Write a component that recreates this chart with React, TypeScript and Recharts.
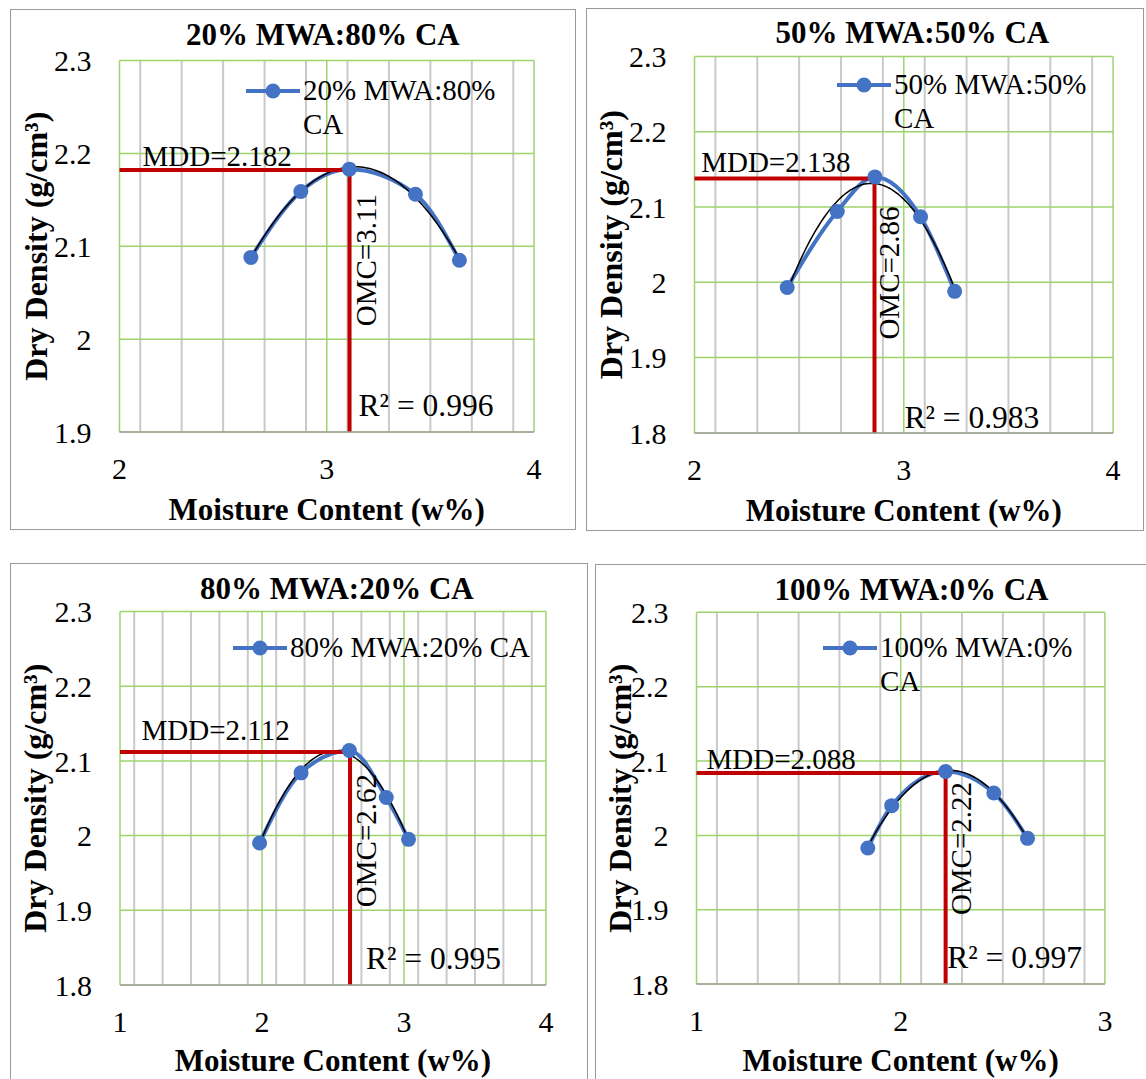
import React from 'react';
import { ComposedChart, Line, XAxis, YAxis, CartesianGrid, ReferenceLine, Legend } from 'recharts';

// ---------------- data ----------------
const TITLES = ['20% MWA:80% CA', '50% MWA:50% CA', '80% MWA:20% CA', '100% MWA:0% CA'];
const LEGEND_LINES = [['20% MWA:80%', 'CA'], ['50% MWA:50%', 'CA'], ['80% MWA:20% CA'], ['100% MWA:0%', 'CA']];

const MOISTURE_20_80 = [2.634, 2.875, 3.109, 3.428, 3.64];
const DENSITY_20_80 = [2.088, 2.159, 2.183, 2.156, 2.085];
const MOISTURE_50_50 = [2.443, 2.682, 2.862, 3.08, 3.243];
const DENSITY_50_50 = [1.993, 2.094, 2.14, 2.087, 1.988];
const MOISTURE_80_20 = [1.983, 2.275, 2.615, 2.875, 3.032];
const DENSITY_80_20 = [1.99, 2.084, 2.114, 2.051, 1.995];
const MOISTURE_100_0 = [1.839, 1.956, 2.22, 2.456, 2.621];
const DENSITY_100_0 = [1.983, 2.04, 2.086, 2.057, 1.996];

const MOISTURE = [MOISTURE_20_80, MOISTURE_50_50, MOISTURE_80_20, MOISTURE_100_0];
const DENSITY = [DENSITY_20_80, DENSITY_50_50, DENSITY_80_20, DENSITY_100_0];

const MDD = [2.182, 2.138, 2.112, 2.088];
const MDD_LINE = [2.182, 2.138, 2.112, 2.084];
const OMC = [3.11, 2.86, 2.62, 2.22];
const R2 = ['0.996', '0.983', '0.995', '0.997'];

const X_TICKS = [[2, 3, 4], [2, 3, 4], [1, 2, 3, 4], [1, 2, 3]];
const Y_TICKS = [
  [1.9, 2, 2.1, 2.2, 2.3],
  [1.8, 1.9, 2, 2.1, 2.2, 2.3],
  [1.8, 1.9, 2, 2.1, 2.2, 2.3],
  [1.8, 1.9, 2, 2.1, 2.2, 2.3],
];

// ---------------- layout (page coordinates) ----------------
const LAYOUT = [
  { box: { l: 10, t: 9, w: 566, h: 521 }, plot: { l: 119.5, t: 60.5, r: 534, b: 432 }, title: [322.8, 44.8], yTitleX: 36, xTitleDy: 87.5,
    mdd: [23, -4], omc: [16, 24], r2: [9, -16], legend: [245.7, 60] },
  { box: { l: 585.5, t: 8, w: 558.5, h: 523 }, plot: { l: 694, t: 56.4, r: 1112.6, b: 432.9 }, title: [911.8, 43.2], yTitleX: 610.6, xTitleDy: 88,
    mdd: [6.7, -6], omc: [15, 28], r2: [30, -5], legend: [837, 54] },
  { box: { l: 9.5, t: 563, w: 578.5, h: 530 }, plot: { l: 119.5, t: 611.5, r: 545.5, b: 985 }, title: [336.3, 598.7], yTitleX: 34.5, xTitleDy: 85.5,
    mdd: [21.5, -12], omc: [15.6, 22], r2: [16, -16], legend: [232.7, 617] },
  { box: { l: 595, t: 563.5, w: 560, h: 530 }, plot: { l: 696.5, t: 611.8, r: 1104.9, b: 983.6 }, title: [911.5, 599], yTitleX: 620.5, xTitleDy: 86.5,
    mdd: [10, -4], omc: [15, 9], r2: [1.6, -16], legend: [822.7, 617.3] },
];

const FONT = "'Liberation Serif', 'Times New Roman', Times, serif";
const BLUE = '#4472c4';
const RED = '#c00000';
const GREEN = '#9ed36e';
const MINOR = '#c9c9c9';

// least-squares quadratic (Excel "Poly. 2" trendline) from the data
function quadFit(xs: number[], ys: number[]) {
  let s0 = xs.length, s1 = 0, s2 = 0, s3 = 0, s4 = 0, t0 = 0, t1 = 0, t2 = 0;
  xs.forEach((x, i) => {
    const y = ys[i];
    s1 += x; s2 += x * x; s3 += x ** 3; s4 += x ** 4;
    t0 += y; t1 += x * y; t2 += x * x * y;
  });
  const det3 = (m: number[][]) =>
    m[0][0] * (m[1][1] * m[2][2] - m[1][2] * m[2][1]) -
    m[0][1] * (m[1][0] * m[2][2] - m[1][2] * m[2][0]) +
    m[0][2] * (m[1][0] * m[2][1] - m[1][1] * m[2][0]);
  const M = [[s4, s3, s2], [s3, s2, s1], [s2, s1, s0]];
  const v = [t2, t1, t0];
  const D = det3(M);
  const col = (k: number) => M.map((row, r) => row.map((c, j) => (j === k ? v[r] : c)));
  return [det3(col(0)) / D, det3(col(1)) / D, det3(col(2)) / D];
}

function trendPoints(xs: number[], ys: number[]) {
  const [a, b, c] = quadFit(xs, ys);
  const lo = Math.min(...xs), hi = Math.max(...xs);
  const n = 80;
  const out: { x: number; y: number }[] = [];
  for (let i = 0; i <= n; i++) {
    const x = lo + ((hi - lo) * i) / n;
    out.push({ x, y: a * x * x + b * x + c });
  }
  return out;
}

function minorValues(lo: number, hi: number) {
  const out: number[] = [];
  for (let k = Math.round(lo * 10); k <= Math.round(hi * 10); k++) {
    if (k % 10 !== 0) out.push(k / 10);
  }
  return out;
}

const YW = 80;
const XH = 60;
const TICK_STYLE = { fontSize: 30, fill: '#000', fontFamily: FONT, style: { fontFamily: FONT } };

function Panel({ i }: { i: number }) {
  const L = LAYOUT[i];
  const { box, plot } = L;
  const xt = X_TICKS[i];
  const yt = Y_TICKS[i];
  const xMin = xt[0], xMax = xt[xt.length - 1];
  const yMin = yt[0], yMax = yt[yt.length - 1];
  const series = MOISTURE[i].map((x, k) => ({ x, y: DENSITY[i][k] }));
  const trend = trendPoints(MOISTURE[i], DENSITY[i]);
  const margin = {
    left: plot.l - box.l - YW,
    top: plot.t - box.t,
    right: box.l + box.w - plot.r,
    bottom: box.t + box.h - plot.b - XH,
  };

  const xTitle = (p: any) => {
    const vb = p.viewBox || { x: 0, y: 0, width: 0 };
    return (
      <text x={vb.x + vb.width / 2} y={vb.y + L.xTitleDy} textAnchor="middle" fontFamily={FONT} fontWeight="bold" fontSize={31} fill="#000">
        Moisture Content (w%)
      </text>
    );
  };
  const yTitle = (p: any) => {
    const vb = p.viewBox || { x: 0, y: 0, height: 0 };
    const px = L.yTitleX - box.l;
    const py = vb.y + vb.height / 2;
    return (
      <text x={px} y={py} transform={`rotate(-90, ${px}, ${py})`} textAnchor="middle" dominantBaseline="central" fontFamily={FONT} fontWeight="bold" fontSize={32} fill="#000">
        Dry Density (g/cm³)
      </text>
    );
  };
  const mddLabel = (p: any) => {
    const vb = p.viewBox || { x: 0, y: 0 };
    return (
      <text x={vb.x + L.mdd[0]} y={vb.y + L.mdd[1]} fontFamily={FONT} fontSize={29} fill="#000">
        {`MDD=${MDD[i].toFixed(3)}`}
      </text>
    );
  };
  const omcLabel = (p: any) => {
    const vb = p.viewBox || { x: 0, y: 0, height: 0 };
    const px = vb.x + L.omc[0];
    const py = vb.y + L.omc[1];
    return (
      <g>
        <text x={px} y={py} transform={`rotate(-90, ${px}, ${py})`} textAnchor="end" dominantBaseline="central" fontFamily={FONT} fontSize={29} fill="#000">
          {`OMC=${OMC[i]}`}
        </text>
        <text x={vb.x + L.r2[0]} y={vb.y + vb.height + L.r2[1]} fontFamily={FONT} fontSize={31.5} fill="#000">
          {`R² = ${R2[i]}`}
        </text>
      </g>
    );
  };
  const legendContent = () => {
    const lines = LEGEND_LINES[i];
    return (
      <svg width={320} height={90} style={{ display: 'block', overflow: 'visible' }}>
        <line x1={0} y1={31} x2={54} y2={31} stroke={BLUE} strokeWidth={4} />
        <circle cx={27} cy={31} r={7.5} fill={BLUE} />
        {lines.map((t, k) => (
          <text key={k} x={57} y={39.5 + k * 34} fontFamily={FONT} fontSize={29} fill="#000">
            {t}
          </text>
        ))}
      </svg>
    );
  };

  return (
    <>
      <div
        style={{
          position: 'absolute', left: box.l, top: box.t, width: box.w, height: box.h,
          border: '1px solid #9a9a9a', boxSizing: 'border-box',
        }}
      />
      <div style={{ position: 'absolute', left: box.l, top: box.t, width: box.w, height: box.h, fontFamily: FONT }}>
        <ComposedChart width={box.w} height={box.h} margin={margin} style={{ fontFamily: FONT }}>
          <CartesianGrid horizontal={false} vertical verticalValues={minorValues(xMin, xMax)} stroke={MINOR} strokeWidth={2} />
          <CartesianGrid stroke={GREEN} strokeWidth={1.5} />
          <XAxis
            type="number"
            dataKey="x"
            domain={[xMin, xMax]}
            ticks={xt}
            allowDataOverflow
            height={XH}
            tickLine={false}
            tickSize={6}
            tickMargin={20}
            axisLine={{ stroke: '#a0a0a0', strokeWidth: 1.5 }}
            tick={TICK_STYLE}
            label={xTitle}
          />
          <YAxis
            type="number"
            dataKey="y"
            domain={[yMin, yMax]}
            ticks={yt}
            allowDataOverflow
            width={YW}
            tickLine={false}
            tickSize={6}
            tickMargin={22}
            axisLine={false}
            tick={TICK_STYLE}
            label={yTitle}
          />
          <Line
            data={series}
            dataKey="y"
            type="monotone"
            stroke={BLUE}
            strokeWidth={4}
            dot={{ r: 7.5, fill: BLUE, stroke: BLUE, strokeWidth: 0 }}
            activeDot={false}
            isAnimationActive={false}
            name={TITLES[i]}
          />
          <Line
            data={trend}
            dataKey="y"
            type="linear"
            stroke="#000"
            strokeWidth={1.5}
            dot={false}
            activeDot={false}
            isAnimationActive={false}
            legendType="none"
          />
          <ReferenceLine
            segment={[{ x: xMin, y: MDD_LINE[i] }, { x: OMC[i], y: MDD_LINE[i] }]}
            stroke={RED}
            strokeWidth={4}
            label={mddLabel}
          />
          <ReferenceLine
            segment={[{ x: OMC[i], y: MDD_LINE[i] }, { x: OMC[i], y: yMin }]}
            stroke={RED}
            strokeWidth={4}
            label={omcLabel}
          />
          <Legend
            layout="vertical"
            align="center"
            verticalAlign="middle"
            content={legendContent}
            wrapperStyle={{ left: L.legend[0] - box.l, top: L.legend[1] - box.t, width: 320, height: 90 }}
          />
        </ComposedChart>
      </div>
      <svg
        width={box.w}
        height={60}
        style={{ position: 'absolute', left: box.l, top: box.t, overflow: 'visible', pointerEvents: 'none' }}
      >
        <text x={L.title[0] - box.l} y={L.title[1] - box.t} textAnchor="middle" fontFamily={FONT} fontWeight="bold" fontSize={31} fill="#000">
          {TITLES[i]}
        </text>
      </svg>
    </>
  );
}

export default function App() {
  return (
    <div style={{ position: 'absolute', left: 0, top: 0, width: 1146, height: 1079, overflow: 'hidden', background: '#fff', fontFamily: FONT }}>
      {[0, 1, 2, 3].map((i) => (
        <Panel key={i} i={i} />
      ))}
    </div>
  );
}
